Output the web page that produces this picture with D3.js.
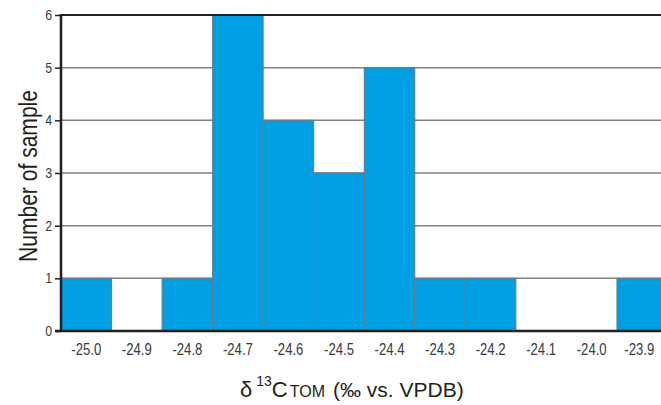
<!DOCTYPE html>
<html>
<head>
<meta charset="utf-8">
<script src="https://cdn.jsdelivr.net/npm/d3@7"></script>
<style>
  body { margin: 0; background: #fff; }
  svg { display: block; font-family: "Liberation Sans", Arial, sans-serif; }
</style>
</head>
<body>
<div id="chart"></div>
<script>
const bins = ["-25.0", "-24.9", "-24.8", "-24.7", "-24.6", "-24.5", "-24.4", "-24.3", "-24.2", "-24.1", "-24.0", "-23.9"];
const counts = [1, 0, 1, 6, 4, 3, 5, 1, 1, 0, 0, 1];
const yTicks = [0, 1, 2, 3, 4, 5, 6];

const width = 661;
const height = 405;
const margin = { top: 15, right: -6.5, bottom: 74, left: 61 };

const svg = d3.select("#chart")
  .append("svg")
  .attr("width", width)
  .attr("height", height);

const x = d3.scaleBand()
  .domain(bins)
  .range([margin.left, width - margin.right])
  .padding(0);

const y = d3.scaleLinear()
  .domain([0, 6])
  .range([height - margin.bottom, margin.top]);

// narrow look: squeeze text along its direction
function narrow(sel, k) {
  sel.each(function () {
    const len = this.getComputedTextLength();
    d3.select(this).attr("textLength", len * k).attr("lengthAdjust", "spacingAndGlyphs");
  });
}

// gridlines
svg.append("g")
  .selectAll("line")
  .data(yTicks.filter(d => d > 0 && d < 6))
  .join("line")
  .attr("x1", margin.left)
  .attr("x2", width)
  .attr("y1", d => y(d))
  .attr("y2", d => y(d))
  .attr("stroke", "#808080")
  .attr("stroke-width", 1.5);

// bars
svg.append("g")
  .selectAll("rect")
  .data(counts.map((c, i) => ({ bin: bins[i], count: c })))
  .join("rect")
  .attr("x", d => x(d.bin))
  .attr("y", d => y(d.count))
  .attr("width", x.bandwidth())
  .attr("height", d => y(0) - y(d.count))
  .attr("fill", d => d.count > 0 ? "#009fe3" : "none")
  .attr("stroke", d => d.count > 0 ? "#6a7a80" : "none")
  .attr("stroke-width", 1);

// top frame line
svg.append("line")
  .attr("x1", margin.left)
  .attr("x2", width)
  .attr("y1", y(6))
  .attr("y2", y(6))
  .attr("stroke", "#231f20")
  .attr("stroke-width", 2);

// x axis
const xAxis = svg.append("g")
  .attr("transform", `translate(0,${y(0)})`)
  .call(d3.axisBottom(x).tickSize(0).tickPadding(13));
xAxis.select(".domain").remove();
xAxis.append("line")
  .attr("x1", margin.left - 6)
  .attr("x2", width)
  .attr("stroke", "#231f20")
  .attr("stroke-width", 2.5);
xAxis.selectAll("text")
  .attr("font-size", 16)
  .attr("fill", "#3a3a3a")
  .attr("font-family", "Liberation Sans, Arial, sans-serif")
  .call(narrow, 0.82);
// last label sits at the clipped edge, nudge it in a bit
xAxis.selectAll("text").filter(d => d === bins[bins.length - 1])
  .attr("dx", -3);

// y axis
const yAxis = svg.append("g")
  .attr("transform", `translate(${margin.left},0)`)
  .call(d3.axisLeft(y).tickValues(yTicks).tickFormat(d3.format("d")).tickSize(6).tickPadding(3));
yAxis.select(".domain")
  .attr("stroke", "#231f20")
  .attr("stroke-width", 2.5)
  .attr("d", `M0,${y(6) - 1}V${y(0) + 1}`);
yAxis.selectAll(".tick line").attr("stroke", "#231f20").attr("stroke-width", 1.5);
yAxis.selectAll("text")
  .attr("font-size", 14)
  .attr("fill", "#3a3a3a")
  .attr("font-family", "Liberation Sans, Arial, sans-serif")
  .call(narrow, 0.88);

// y title
svg.append("text")
  .attr("transform", "translate(37,176) rotate(-90)")
  .attr("text-anchor", "middle")
  .attr("font-size", 25)
  .attr("fill", "#231f20")
  .text("Number of sample")
  .attr("textLength", 172)
  .attr("lengthAdjust", "spacingAndGlyphs");

// x title
const xt = svg.append("text")
  .attr("x", 240)
  .attr("y", 397)
  .attr("font-size", 22)
  .attr("fill", "#231f20");
xt.append("tspan").text("δ");
xt.append("tspan").attr("font-size", 14).attr("dx", 4).attr("dy", -11).text("13");
xt.append("tspan").attr("dy", 11).text("C");
xt.append("tspan").attr("font-size", 16).attr("dx", 2).text("TOM");
xt.append("tspan").attr("font-size", 21).attr("dx", 8).text("(‰ vs. VPDB)");
</script>
</body>
</html>
